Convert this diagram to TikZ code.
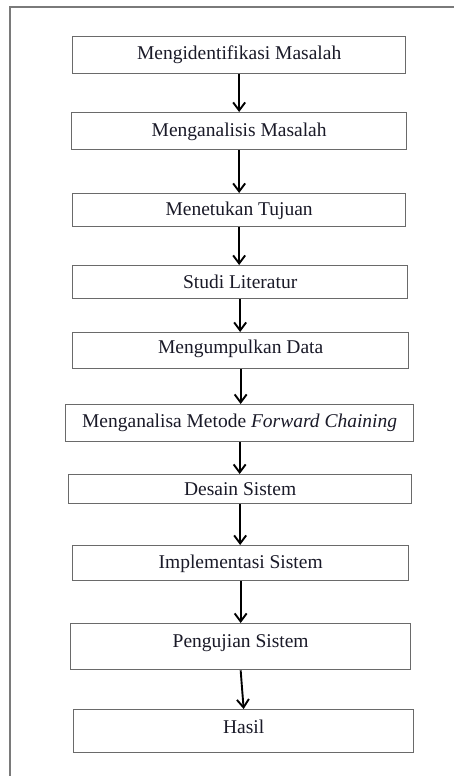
\documentclass[tikz,border=0pt]{standalone}
\usepackage{fontspec}
\setmainfont{Liberation Serif}
\usetikzlibrary{arrows.meta}
\definecolor{boxgray}{HTML}{6A6A6A}
\definecolor{framegray}{HTML}{7A7A7A}
\definecolor{txt}{HTML}{1A1A28}
\begin{document}
\begin{tikzpicture}[x=1pt,y=-1pt,
  stepbox/.style={draw=boxgray, line width=1.3pt, inner sep=0pt, anchor=north west,
    align=center, font=\fontsize{19.5}{22}\selectfont, text=txt},
  flowarrow/.style={draw=black, line width=1.9pt,
    -{Straight Barb[length=8pt,width=12pt,line width=1.9pt]}}]
\useasboundingbox (0,0) rectangle (454,776);
\fill[white] (0,0) rectangle (454,776);
\draw[framegray, line width=2.2pt] (10,776) -- (10,7) -- (454,7);

\node[stepbox, minimum width=333pt, text height=23pt, text depth=14pt] (n1) at (72,36) {Mengidentifikasi Masalah};
\node[stepbox, minimum width=335pt, text height=24pt, text depth=13pt] (n2) at (71,112) {Menganalisis Masalah};
\node[stepbox, minimum width=333pt, text height=22pt, text depth=11pt] (n3) at (72,193) {Menetukan Tujuan};
\node[stepbox, minimum width=335pt, text height=23pt, text depth=10pt] (n4) at (72,265) {Studi Literatur};
\node[stepbox, minimum width=336pt, text height=21pt, text depth=15pt] (n5) at (72,332) {Mengumpulkan Data};
\node[stepbox, minimum width=348pt, text height=23pt, text depth=14pt] (n6) at (65,404) {Menganalisa Metode \textit{Forward Chaining}};
\node[stepbox, minimum width=343pt, text height=21pt, text depth=8pt] (n7) at (68,474) {Desain Sistem};
\node[stepbox, minimum width=336pt, text height=23pt, text depth=12pt] (n8) at (72,545) {Implementasi Sistem};
\node[stepbox, minimum width=340pt, text height=24pt, text depth=22pt] (n9) at (70,623) {Pengujian Sistem};
\node[stepbox, minimum width=340pt, text height=24pt, text depth=19pt] (n10) at (73,709) {Hasil};

\draw[flowarrow] (n1.south) -- (n1.south |- n2.north);
\draw[flowarrow] (n2.south) -- (n2.south |- n3.north);
\draw[flowarrow] (n3.south) -- (n3.south |- n4.north);
\draw[flowarrow] (n4.south) -- (n4.south |- n5.north);
\draw[flowarrow] (n5.south) -- (n5.south |- n6.north);
\draw[flowarrow] (n6.south) -- (n6.south |- n7.north);
\draw[flowarrow] (n7.south) -- (n7.south |- n8.north);
\draw[flowarrow] (n8.south) -- (n8.south |- n9.north);
\draw[flowarrow] (n9.south) -- (n10.north);
\end{tikzpicture}
\end{document}
